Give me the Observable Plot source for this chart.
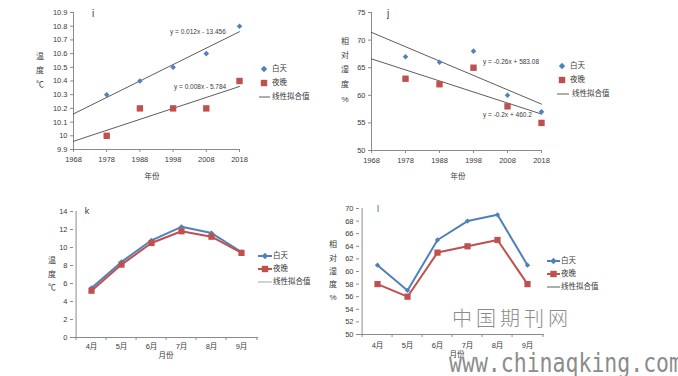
<!DOCTYPE html>
<html><head><meta charset="utf-8">
<script src="https://cdn.jsdelivr.net/npm/d3@7"></script>
<script src="https://cdn.jsdelivr.net/npm/@observablehq/plot@0.6"></script>
<style>
body{margin:0;background:#fff;}
#root{position:relative;width:678px;height:376px;overflow:hidden;background:#fff;font-family:"Liberation Sans","Noto Sans CJK SC",sans-serif;color:#333;}
.t{position:absolute;white-space:nowrap;line-height:1;}
svg{overflow:visible;}
</style></head><body><div id="root"></div>
<script>
// ---- data ----
const years = [1978, 1988, 1998, 2008, 2018];
const yearTicks = [1968, 1978, 1988, 1998, 2008, 2018];
const trendYears = [1968, 2018];
const tempDayYear = [10.3, 10.4, 10.5, 10.6, 10.8];
const tempNightYear = [10.0, 10.2, 10.2, 10.2, 10.4];
const tempDayTrend = [10.16, 10.76];
const tempNightTrend = [9.96, 10.36];
const tempYearTicks = [9.9, 10, 10.1, 10.2, 10.3, 10.4, 10.5, 10.6, 10.7, 10.8, 10.9];
const humDayYear = [67, 66, 68, 60, 57];
const humNightYear = [63, 62, 65, 58, 55];
const humDayTrend = [71.4, 58.4];
const humNightTrend = [66.6, 56.6];
const humYearTicks = [50, 55, 60, 65, 70, 75];
const months = ["4月", "5月", "6月", "7月", "8月", "9月"];
const tempDayMonth = [5.5, 8.4, 10.8, 12.3, 11.6, 9.5];
const tempNightMonth = [5.2, 8.1, 10.5, 11.8, 11.2, 9.4];
const tempMonthTicks = [0, 2, 4, 6, 8, 10, 12, 14];
const humDayMonth = [61, 57, 65, 68, 69, 61];
const humNightMonth = [58, 56, 63, 64, 65, 58];
const humMonthTicks = [50, 52, 54, 56, 58, 60, 62, 64, 66, 68, 70];
const seriesNames = ["白天", "夜晚", "线性拟合值"];
const eqTemp = ["y = 0.012x - 13.456", "y = 0.008x - 5.784"];
const eqHum = ["y = -0.26x + 583.08", "y = -0.2x + 460.2"];

// ---- style ----
const BLUE = "#4F81BD", RED = "#C0504D", AXIS = "#8a8a8a", TXT = "#3a3a3a";
const FONT = '"Liberation Sans","Noto Sans CJK SC",sans-serif';
const root = document.getElementById("root");

function put(el, left, top) {
  el.style.position = "absolute"; el.style.left = left + "px"; el.style.top = top + "px";
  root.appendChild(el);
}
function txt(s, x, y, o = {}) {
  const d = document.createElement("div");
  d.className = "t";
  d.textContent = s;
  d.style.fontSize = (o.size || 7.5) + "px";
  d.style.color = o.color || TXT;
  d.style.fontFamily = o.family || FONT;
  if (o.weight) d.style.fontWeight = o.weight;
  if (o.ls) d.style.letterSpacing = o.ls + "px";
  d.style.transformOrigin = "0 50%";
  d.style.transform = `translate(${o.anchor === "middle" ? "-50%" : "0"},-50%)` + (o.sy ? ` scaleY(${o.sy})` : "");
  put(d, x, y);
}
function vtitle(chars, x, ys) { chars.forEach((c, i) => txt(c, x, ys[i], {anchor: "middle", size: 8})); }
const NS = "http://www.w3.org/2000/svg";
function swatch(x1, x2, y, o) {
  const s = document.createElementNS(NS, "svg");
  s.setAttribute("width", x2 - x1 + 8); s.setAttribute("height", 12);
  s.style.position = "absolute"; s.style.left = (x1 - 4) + "px"; s.style.top = (y - 6) + "px";
  let h = "";
  if (o.line) h += `<line x1="4" x2="${x2 - x1 + 4}" y1="6" y2="6" stroke="${o.line}" stroke-width="${o.lw || 1}"/>`;
  const cx = (x2 - x1) / 2 + 4;
  if (o.sym === "diamond") h += `<path d="M${cx},${6 - 3.2}L${cx + 3.2},6L${cx},${6 + 3.2}L${cx - 3.2},6Z" fill="${o.color}"/>`;
  if (o.sym === "square") h += `<rect x="${cx - 3.2}" y="2.8" width="6.4" height="6.4" fill="${o.color}"/>`;
  s.innerHTML = h;
  root.appendChild(s);
}

const fmt1 = d => String(+d.toFixed(1));

function scatterPanel(c) {
  const day = years.map((x, i) => ({x, v: c.day[i]}));
  const night = years.map((x, i) => ({x, v: c.night[i]}));
  const dT = trendYears.map((x, i) => ({x, v: c.dayTrend[i]}));
  const nT = trendYears.map((x, i) => ({x, v: c.nightTrend[i]}));
  const p = Plot.plot({
    width: c.width, height: c.height,
    marginLeft: c.ml, marginRight: c.mr, marginTop: c.mt, marginBottom: c.mb,
    style: {fontSize: "7.5px", fontFamily: FONT, color: TXT, background: "transparent", overflow: "visible"},
    x: {domain: [yearTicks[0], yearTicks[yearTicks.length - 1]]},
    y: {domain: [c.yTicks[0], c.yTicks[c.yTicks.length - 1]]},
    marks: [
      Plot.axisX({ticks: yearTicks, tickFormat: d => String(d), tickSize: 3, tickPadding: 4, stroke: AXIS, fill: TXT, label: null}),
      Plot.axisY({ticks: c.yTicks, tickFormat: fmt1, tickSize: 3, tickPadding: 3, stroke: AXIS, fill: TXT, label: null}),
      Plot.ruleX([yearTicks[0]], {stroke: AXIS}),
      Plot.ruleY([c.yTicks[0]], {stroke: AXIS}),
      Plot.line(dT, {x: "x", y: "v", stroke: "#333", strokeWidth: 0.8}),
      Plot.line(nT, {x: "x", y: "v", stroke: "#333", strokeWidth: 0.8}),
      Plot.dot(day, {x: "x", y: "v", symbol: "diamond2", fill: BLUE, r: 2.5}),
      Plot.dot(night, {x: "x", y: "v", symbol: "square", fill: RED, r: 3.6})
    ]
  });
  put(p, c.left, c.top);
}

function linePanel(c) {
  const bw = (c.width - c.ml - c.mr) / months.length;
  const day = months.map((m, i) => ({m, v: c.day[i]}));
  const night = months.map((m, i) => ({m, v: c.night[i]}));
  const p = Plot.plot({
    width: c.width, height: c.height,
    marginLeft: c.ml, marginRight: c.mr, marginTop: c.mt, marginBottom: c.mb,
    style: {fontSize: "7.5px", fontFamily: FONT, color: TXT, background: "transparent", overflow: "visible"},
    x: {type: "band", domain: months, padding: 0},
    y: {domain: [c.yTicks[0], c.yTicks[c.yTicks.length - 1]]},
    marks: [
      Plot.axisX({tickSize: 0, tickPadding: c.xPad, fill: TXT, label: null}),
      Plot.axisX({ticks: months, tickSize: 3, tickFormat: () => "", stroke: AXIS, dx: -bw / 2, label: null}),
      Plot.axisX({ticks: [months[months.length - 1]], tickSize: 3, tickFormat: () => "", stroke: AXIS, dx: bw / 2, label: null}),
      Plot.axisY({ticks: c.yTicks, tickSize: 3, tickPadding: 3, stroke: AXIS, fill: TXT, label: null}),
      Plot.ruleY([c.yTicks[0]], {stroke: AXIS}),
      Plot.ruleX([months[0]], {stroke: AXIS, dx: -bw / 2}),
      Plot.line(day, {x: "m", y: "v", stroke: BLUE, strokeWidth: 2}),
      Plot.line(night, {x: "m", y: "v", stroke: RED, strokeWidth: 2}),
      Plot.dot(day, {x: "m", y: "v", symbol: "diamond2", fill: BLUE, r: 2.4}),
      Plot.dot(night, {x: "m", y: "v", symbol: "square", fill: RED, r: 3.5})
    ]
  });
  put(p, c.left, c.top);
}

// panel i
scatterPanel({left: 0, top: 0, width: 340, height: 190, ml: 73, mr: 101, mt: 12, mb: 41,
  yTicks: tempYearTicks, day: tempDayYear, night: tempNightYear, dayTrend: tempDayTrend, nightTrend: tempNightTrend});
// panel j
scatterPanel({left: 340, top: 0, width: 338, height: 190, ml: 31, mr: 137, mt: 12, mb: 40,
  yTicks: humYearTicks, day: humDayYear, night: humNightYear, dayTrend: humDayTrend, nightTrend: humNightTrend});
// panel k
linePanel({left: 0, top: 190, width: 340, height: 186, ml: 73, mr: 82, mt: 21, mb: 39, xPad: 6,
  yTicks: tempMonthTicks, day: tempDayMonth, night: tempNightMonth});
// panel l
linePanel({left: 340, top: 190, width: 338, height: 186, ml: 19, mr: 134, mt: 18, mb: 42, xPad: 8,
  yTicks: humMonthTicks, day: humDayMonth, night: humNightMonth});

// panel letters
txt("i", 93, 14, {anchor: "middle", size: 10});
txt("j", 388, 14, {anchor: "middle", size: 10});
txt("k", 87, 211, {anchor: "middle", size: 9});
txt("l", 378, 209, {anchor: "middle", size: 9, color: "#3b5f95"});

// axis titles
txt("年份", 152, 177, {anchor: "middle"});
txt("年份", 458, 177, {anchor: "middle"});
txt("月份", 166, 356, {anchor: "middle"});
txt("月份", 457, 355, {anchor: "middle"});
vtitle(["温", "度", "℃"], 40, [57, 71, 85]);
vtitle(["相", "对", "湿", "度", "%"], 345, [42, 56, 70, 85, 100]);
vtitle(["温", "度", "℃"], 52, [261, 275, 288]);
vtitle(["相", "对", "湿", "度", "%"], 333, [245, 259, 272, 285, 298]);

// equations
txt(eqTemp[0], 170, 32, {size: 6.5});
txt(eqTemp[1], 174, 87, {size: 6.5});
txt(eqHum[0], 483, 62, {size: 6.5});
txt(eqHum[1], 483, 115, {size: 6.5});

// legends i
swatch(262, 266, 69, {sym: "diamond", color: BLUE});
txt(seriesNames[0], 272, 69);
swatch(262, 266, 83, {sym: "square", color: RED});
txt(seriesNames[1], 272, 83);
swatch(259, 270, 97, {line: "#333", lw: 0.8});
txt(seriesNames[2], 272, 97);
// legends j
swatch(560, 564, 66, {sym: "diamond", color: BLUE});
txt(seriesNames[0], 570, 66);
swatch(560, 564, 80, {sym: "square", color: RED});
txt(seriesNames[1], 570, 80);
swatch(557, 569, 94, {line: "#333", lw: 0.8});
txt(seriesNames[2], 572, 94);
// legends k
swatch(258, 272, 256, {line: BLUE, lw: 2, sym: "diamond", color: BLUE});
txt(seriesNames[0], 273, 256);
swatch(258, 272, 269, {line: RED, lw: 2, sym: "square", color: RED});
txt(seriesNames[1], 273, 269);
swatch(258, 272, 282, {line: "#a6a6a6", lw: 1});
txt(seriesNames[2], 273, 282);
// legends l
swatch(547, 560, 261, {line: BLUE, lw: 2, sym: "diamond", color: BLUE});
txt(seriesNames[0], 561, 261);
swatch(547, 560, 274, {line: RED, lw: 2, sym: "square", color: RED});
txt(seriesNames[1], 561, 274);
swatch(547, 560, 287, {line: "#333", lw: 0.8});
txt(seriesNames[2], 561, 287);

// watermark
txt("中国期刊网", 452, 318, {size: 20, color: "#8c8c8c", ls: 4, family: '"Noto Sans CJK SC",serif', weight: 300});
txt("www.chinaqking.com", 449, 363, {size: 21.5, color: "#8c8c8c", sy: 1.2, family: '"DejaVu Sans Mono","Liberation Mono",monospace'});
</script></body></html>
